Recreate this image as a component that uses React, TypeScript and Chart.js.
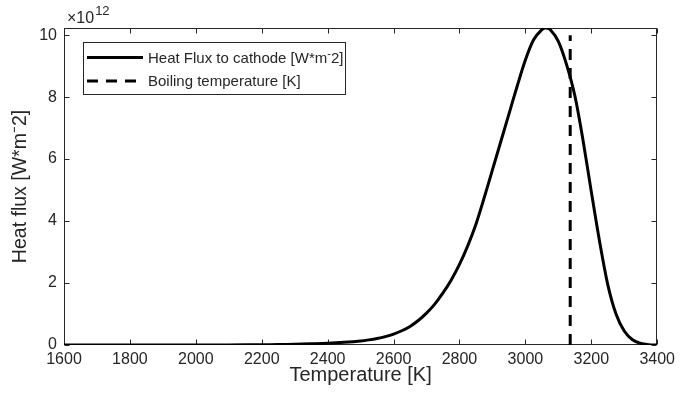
import React, { useEffect, useRef } from 'react';
import { Chart, registerables } from 'chart.js';

Chart.register(...registerables);

// ---- data (heat flux in units of 1e12 W*m^-2) ----
const temperatureK = [
  1600, 1700, 1800, 1900, 2000, 2100, 2200, 2250, 2300, 2350, 2400, 2450, 2500, 2525,
  2550, 2575, 2600, 2625, 2650, 2675, 2700, 2725, 2750, 2775, 2800, 2825, 2850, 2875,
  2900, 2925, 2950, 2975, 3000, 3025, 3050, 3062, 3075, 3100, 3125, 3150, 3175, 3200,
  3225, 3250, 3275, 3300, 3325, 3350, 3375, 3400,
];
const heatFluxE12 = [
  0, 0, 0, 0, 0.001, 0.003, 0.008, 0.014, 0.024, 0.04, 0.058, 0.088, 0.13, 0.165,
  0.21, 0.27, 0.35, 0.46, 0.6, 0.79, 1.03, 1.32, 1.68, 2.1, 2.6, 3.2, 3.9, 4.75,
  5.65, 6.55, 7.45, 8.35, 9.2, 9.85, 10.18, 10.23, 10.18, 9.8, 9.05, 8.05, 6.6, 4.95,
  3.35, 1.95, 1.0, 0.45, 0.17, 0.05, 0.01, 0,
];
const boilingTemperatureK = 3136;
const boilingLineRange = [0, 10];

const xTicks = [1600, 1800, 2000, 2200, 2400, 2600, 2800, 3000, 3200, 3400];
const yTicks = [0, 2, 4, 6, 8, 10];
const xRange = [1600, 3400];
const yRange = [0, 10.23];

const seriesLabels = ['Heat Flux to cathode [W*m\u207B2]', 'Boiling temperature [K]'];
const xTitle = 'Temperature [K]';
const yTitle = 'Heat flux [W*m\u207B2]';
const exponentBase = '\u00D710';
const exponentPower = '12';

const AX = '#262626';
const FONT = "'Liberation Sans', Arial, Helvetica, sans-serif";
const LEGEND_SIZE = 15;

function drawRich(ctx: CanvasRenderingContext2D, text: string, x: number, y: number, size: number) {
  // '\u207B' is drawn as a small raised minus (TeX-style superscript)
  const parts = text.split('\u207B');
  let cx = x;
  parts.forEach((p, i) => {
    if (i > 0) {
      ctx.font = `${size * 0.75}px ${FONT}`;
      ctx.fillText('-', cx, y - size * 0.3);
      cx += ctx.measureText('-').width;
    }
    ctx.font = `${size}px ${FONT}`;
    ctx.fillText(p, cx, y);
    cx += ctx.measureText(p).width;
  });
}

const framePlugin = {
  id: 'matlabFrame',
  beforeDatasetsDraw(chart: any) {
    const { ctx, chartArea } = chart;
    const { left, right, top, bottom } = chartArea;
    const xs = chart.scales.x;
    const ys = chart.scales.y;
    ctx.save();
    ctx.strokeStyle = AX;
    ctx.lineWidth = 1;
    ctx.setLineDash([]);
    const L = Math.round(left) + 0.5;
    const R = Math.round(right) - 0.5;
    const T = Math.round(top) + 0.5;
    const B = Math.round(bottom) - 0.5;
    ctx.strokeRect(L, T, R - L, B - T);
    const tl = 5;
    ctx.beginPath();
    for (const v of xTicks) {
      const px = Math.round(xs.getPixelForValue(v)) + 0.5;
      ctx.moveTo(px, B);
      ctx.lineTo(px, B - tl);
      ctx.moveTo(px, T);
      ctx.lineTo(px, T + tl);
    }
    for (const v of yTicks) {
      const py = Math.round(ys.getPixelForValue(v)) + 0.5;
      ctx.moveTo(L, py);
      ctx.lineTo(L + tl, py);
      ctx.moveTo(R, py);
      ctx.lineTo(R - tl, py);
    }
    ctx.stroke();

    // exponent label
    ctx.fillStyle = AX;
    ctx.textBaseline = 'alphabetic';
    ctx.textAlign = 'left';
    ctx.font = `16px ${FONT}`;
    const ex = Math.round(left) + 3;
    ctx.fillText(exponentBase, ex, Math.round(top) - 5);
    const w = ctx.measureText(exponentBase).width;
    ctx.font = `13px ${FONT}`;
    ctx.fillText(exponentPower, ex + w + 1, Math.round(top) - 13);
    ctx.restore();
  },
  afterDatasetsDraw(chart: any) {
    const { ctx } = chart;
    const ds = chart.data.datasets;
    const boxL = 83, boxT = 42, boxR = 346, boxB = 95;
    ctx.save();
    ctx.fillStyle = '#ffffff';
    ctx.fillRect(boxL, boxT, boxR - boxL, boxB - boxT);
    ctx.strokeStyle = AX;
    ctx.lineWidth = 1;
    ctx.setLineDash([]);
    ctx.strokeRect(boxL + 0.5, boxT + 0.5, boxR - boxL - 1, boxB - boxT - 1);
    const rows = [57.5, 81];
    ds.forEach((d: any, i: number) => {
      const y = rows[i];
      ctx.beginPath();
      ctx.strokeStyle = d.borderColor;
      ctx.lineWidth = d.borderWidth;
      ctx.setLineDash(d.borderDash || []);
      ctx.moveTo(87, y);
      ctx.lineTo(143, y);
      ctx.stroke();
      ctx.setLineDash([]);
      ctx.fillStyle = AX;
      ctx.textBaseline = 'middle';
      ctx.textAlign = 'left';
      drawRich(ctx, d.label, 148, y + 1, LEGEND_SIZE);
    });
    ctx.restore();
  },
};

export default function App() {
  const ref = useRef<HTMLCanvasElement | null>(null);
  useEffect(() => {
    if (!ref.current) return;
    const chart = new Chart(ref.current, {
      type: 'line',
      data: {
        datasets: [
          {
            label: seriesLabels[0],
            data: temperatureK.map((t, i) => ({ x: t, y: heatFluxE12[i] })),
            borderColor: '#000000',
            borderWidth: 3,
            pointRadius: 0,
            tension: 0.3,
            fill: false,
          },
          {
            label: seriesLabels[1],
            data: boilingLineRange.map((y) => ({ x: boilingTemperatureK, y })),
            borderColor: '#000000',
            borderWidth: 3,
            borderDash: [11, 8],
            pointRadius: 0,
            fill: false,
          },
        ],
      },
      options: {
        animation: false,
        responsive: false,
        devicePixelRatio: 1,
        layout: { padding: { top: 28, right: 22, left: 0, bottom: 0 } },
        plugins: { legend: { display: false }, tooltip: { enabled: false } },
        scales: {
          x: {
            type: 'linear',
            min: xRange[0],
            max: xRange[1],
            grid: { display: false, drawTicks: false },
            border: { display: false },
            afterBuildTicks: (s: any) => {
              s.ticks = xTicks.map((v) => ({ value: v }));
            },
            afterFit: (s: any) => {
              s.height = 63;
            },
            ticks: {
              autoSkip: false,
              maxRotation: 0,
              padding: 5,
              color: AX,
              font: { family: FONT, size: 16 },
              callback: (v: any) => String(v),
            },
            title: {
              display: true,
              text: xTitle,
              color: AX,
              font: { family: FONT, size: 20 },
              padding: { top: 0, bottom: 21 },
            },
          },
          y: {
            type: 'linear',
            min: yRange[0],
            max: yRange[1],
            grid: { display: false, drawTicks: false },
            border: { display: false },
            afterBuildTicks: (s: any) => {
              s.ticks = yTicks.map((v) => ({ value: v }));
            },
            afterFit: (s: any) => {
              s.width = 64;
            },
            ticks: {
              padding: 7,
              color: AX,
              font: { family: FONT, size: 16 },
              callback: (v: any) => String(v),
            },
            title: {
              display: true,
              text: yTitle,
              color: AX,
              font: { family: FONT, size: 19.5 },
              padding: { top: 9, bottom: 0 },
            },
          },
        },
      },
      plugins: [framePlugin],
    } as any);
    return () => chart.destroy();
  }, []);
  return (
    <div style={{ position: 'fixed', left: 0, top: 0, width: 680, height: 408, background: '#fff' }}>
      <canvas ref={ref} width={680} height={408} style={{ display: 'block' }} />
    </div>
  );
}
